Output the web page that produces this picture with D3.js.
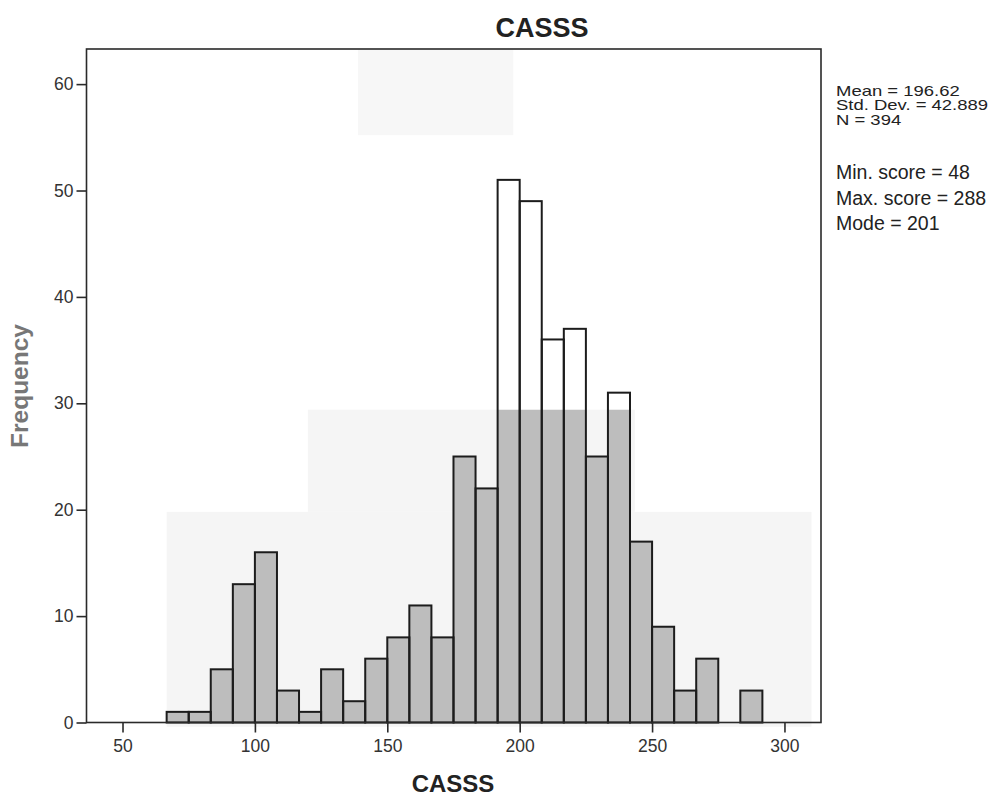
<!DOCTYPE html>
<html>
<head>
<meta charset="utf-8">
<script src="https://cdn.jsdelivr.net/npm/d3@7/dist/d3.min.js"></script>
<style>
  body { margin: 0; background: #fff; }
  svg { display: block; }
  text { font-family: Arial, "Liberation Sans", sans-serif; }
</style>
</head>
<body>
<svg id="vis"></svg>
<script>
// histogram bins (lower edge of each bin, bin width 8.33)
var binStarts = [66.67, 75, 83.33, 91.67, 100, 108.33, 116.67, 125, 133.33, 141.67,
    150, 158.33, 166.67, 175, 183.33, 191.67, 200, 208.33, 216.67, 225,
    233.33, 241.67, 250, 258.33, 266.67, 275, 283.33];
var binWidth = 8.333;
var counts = [1, 1, 5, 13, 16, 3, 1, 5, 2, 6,
    8, 11, 8, 25, 22, 51, 49, 36, 37, 25,
    31, 17, 9, 3, 6, 0, 3];

var xTicks = [50, 100, 150, 200, 250, 300];
var yTicks = [0, 10, 20, 30, 40, 50, 60];

var statsTop = ["Mean = 196.62", "Std. Dev. = 42.889", "N = 394"];
var statsBottom = ["Min. score = 48", "Max. score = 288", "Mode = 201"];

// grey patches left on the page by the scanner (in data units)
var scanPatches = [
    {x0: 66.67, x1: 310.2, y0: -0.4, y1: 19.8, fill: "#f5f5f5"},
    {x0: 120.0, x1: 243.5, y0: 19.8, y1: 29.4, fill: "#f5f5f5"},
    {x0: 138.9, x1: 197.6, y0: 55.2, y1: 63.3, fill: "#f7f7f7"}
];

var size = {width: 998, height: 796};
var plot = {left: 86.5, right: 821, top: 49, bottom: 722.5};

var svg = d3.select("#vis")
    .attr("width", size.width)
    .attr("height", size.height);

var x = d3.scaleLinear()
    .domain([36.4, 313.8])
    .range([plot.left, plot.right]);

var y = d3.scaleLinear()
    .domain([0, 63.3])
    .range([plot.bottom, plot.top]);

var bins = binStarts.map(function(b, i) {
    return {x0: b, x1: b + binWidth, value: counts[i]};
});

// scanner patches
svg.append("g")
    .selectAll("rect")
    .data(scanPatches)
    .enter()
    .append("rect")
    .attr("x", d => x(d.x0))
    .attr("y", d => y(d.y1))
    .attr("width", d => x(d.x1) - x(d.x0))
    .attr("height", d => y(d.y0) - y(d.y1))
    .attr("fill", d => d.fill);

// bars outside the patches stay white, inside they come out grey
svg.append("clipPath")
    .attr("id", "scan-clip")
    .selectAll("rect")
    .data(scanPatches)
    .enter()
    .append("rect")
    .attr("x", d => x(d.x0))
    .attr("y", d => y(d.y1))
    .attr("width", d => x(d.x1) - x(d.x0))
    .attr("height", d => y(d.y0) - y(d.y1));

var barsG = svg.append("g");
var nonEmpty = bins.filter(d => d.value > 0);

barsG.selectAll("rect.white")
    .data(nonEmpty)
    .enter()
    .append("rect")
    .attr("class", "white")
    .attr("x", d => x(d.x0))
    .attr("y", d => y(d.value))
    .attr("width", d => x(d.x1) - x(d.x0))
    .attr("height", d => y(0) - y(d.value))
    .attr("fill", "#fff");

barsG.append("g")
    .attr("clip-path", "url(#scan-clip)")
    .selectAll("rect")
    .data(nonEmpty)
    .enter()
    .append("rect")
    .attr("x", d => x(d.x0))
    .attr("y", d => y(d.value))
    .attr("width", d => x(d.x1) - x(d.x0))
    .attr("height", d => y(0) - y(d.value))
    .attr("fill", "#bdbdbd");

barsG.selectAll("rect.outline")
    .data(nonEmpty)
    .enter()
    .append("rect")
    .attr("class", "outline")
    .attr("x", d => x(d.x0))
    .attr("y", d => y(d.value))
    .attr("width", d => x(d.x1) - x(d.x0))
    .attr("height", d => y(0) - y(d.value))
    .attr("fill", "none")
    .attr("stroke", "#1c1c1c")
    .attr("stroke-width", 2);

// frame
svg.append("rect")
    .attr("x", plot.left)
    .attr("y", plot.top)
    .attr("width", plot.right - plot.left)
    .attr("height", plot.bottom - plot.top)
    .attr("fill", "none")
    .attr("stroke", "#2a2a2a")
    .attr("stroke-width", 1.6);

// axes
var yAxis = d3.axisLeft(y).tickValues(yTicks).tickSize(10).tickPadding(3);
var xAxis = d3.axisBottom(x).tickValues(xTicks).tickSize(10).tickPadding(7);

var yG = svg.append("g")
    .attr("transform", "translate(" + plot.left + ",0)")
    .call(yAxis);
var xG = svg.append("g")
    .attr("transform", "translate(0," + plot.bottom + ")")
    .call(xAxis);

[yG, xG].forEach(function(g) {
    g.select(".domain").remove();
    g.selectAll(".tick line").attr("stroke", "#2a2a2a").attr("stroke-width", 1.6);
    g.selectAll(".tick text")
        .attr("fill", "#333")
        .style("font-size", "17.5px")
        .style("font-family", "Arial, 'Liberation Sans', sans-serif");
});

// titles
svg.append("text")
    .attr("x", 542)
    .attr("y", 36.5)
    .attr("text-anchor", "middle")
    .style("font-size", "27px")
    .style("font-weight", "bold")
    .attr("fill", "#222")
    .text("CASSS");

svg.append("text")
    .attr("x", 453)
    .attr("y", 792)
    .attr("text-anchor", "middle")
    .style("font-size", "24px")
    .style("font-weight", "bold")
    .attr("fill", "#222")
    .text("CASSS");

svg.append("text")
    .attr("transform", "translate(28,386) rotate(-90)")
    .attr("text-anchor", "middle")
    .style("font-size", "24.5px")
    .style("font-weight", "bold")
    .attr("fill", "#777")
    .text("Frequency");

// stats block: tightly spaced lines, stretched wide like the scan
svg.append("g")
    .selectAll("text")
    .data(statsTop)
    .enter()
    .append("text")
    .attr("transform", (d, i) => "translate(836," + (95.5 + i * 14.5) + ") scale(1.32,1)")
    .style("font-size", "14px")
    .attr("fill", "#222")
    .text(d => d);

svg.append("g")
    .selectAll("text")
    .data(statsBottom)
    .enter()
    .append("text")
    .attr("x", 836)
    .attr("y", (d, i) => 179 + i * 25.5)
    .style("font-size", "19.5px")
    .attr("fill", "#222")
    .text(d => d);
</script>
</body>
</html>
